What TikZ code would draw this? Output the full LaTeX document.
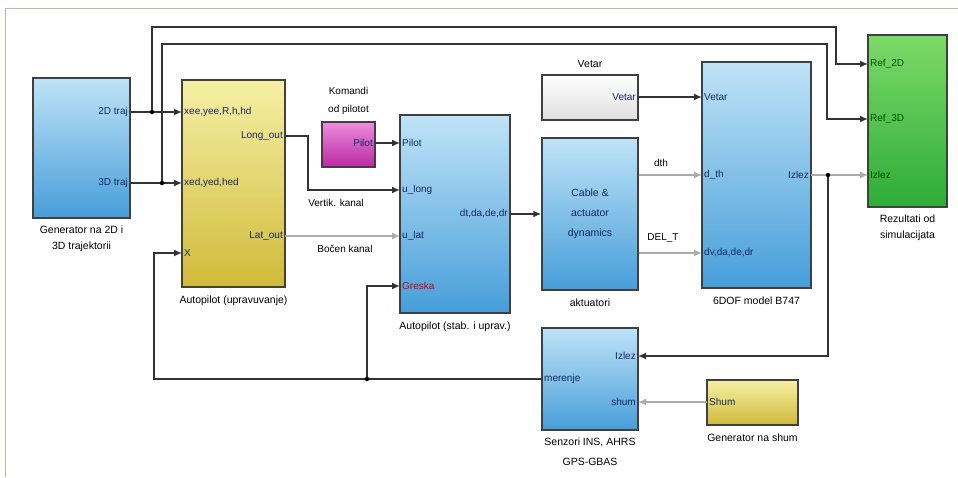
\documentclass[tikz,border=0pt]{standalone}
\usepackage{fontspec}
\setmainfont{Liberation Sans}
\usetikzlibrary{arrows.meta}
\definecolor{blkhi}{RGB}{192,227,247}
\definecolor{blklo}{RGB}{70,158,218}
\definecolor{ylwhi}{RGB}{246,240,165}
\definecolor{ylwlo}{RGB}{208,186,58}
\definecolor{grnhi}{RGB}{125,218,105}
\definecolor{grnlo}{RGB}{45,172,55}
\definecolor{maghi}{RGB}{236,140,222}
\definecolor{maglo}{RGB}{186,42,162}
\definecolor{framec}{RGB}{205,175,155}
\definecolor{porttxt}{RGB}{20,40,95}

\begin{document}
\begin{tikzpicture}[x=1pt,y=-1pt,>={Latex[length=8pt,width=7pt]},
  font=\fontsize{10}{11}\selectfont,
  blk/.style={draw=black!75,line width=1.4pt,inner sep=0pt},
  blueblk/.style={blk,top color=blkhi,bottom color=blklo},
  ylwblk/.style={blk,top color=ylwhi,bottom color=ylwlo},
  pin l/.style={anchor=west,inner sep=2pt,text=porttxt},
  pin r/.style={anchor=east,inner sep=2pt,text=porttxt},
  sig/.style={draw=black!80,line width=1.5pt},
  sigl/.style={draw=gray!65,line width=1.8pt},
  jdot/.style={circle,fill=black,inner sep=0pt,minimum size=4.5pt},
  blkcap/.style={align=center,font=\fontsize{10.5}{16}\selectfont}]
\useasboundingbox (0,0) rectangle (958,477);
\draw[framec,line width=1pt] (5,477) -- (5,8) -- (958,8);

\node[blueblk,minimum width=97pt,minimum height=140pt] (gen) at (81.5,148) {};
\node[blkcap,below=4pt] (gen-cap) at (gen.south) {Generator na 2D i\\3D trajektorii};
\node[pin r] (gen-2d) at (130,112) {2D traj};
\node[pin r] (gen-3d) at (130,183) {3D traj};

\node[ylwblk,minimum width=103pt,minimum height=207pt] (ap1) at (233.5,183.5) {};
\node[blkcap,below=5pt] (ap1-cap) at (ap1.south) {Autopilot (upravuvanje)};
\node[pin l] (ap1-i1) at (182,112) {xee,yee,R,h,hd};
\node[pin l] (ap1-i2) at (182,183) {xed,yed,hed};
\node[pin l] (ap1-i3) at (182,253) {X};
\node[pin r] (ap1-lo) at (285,136) {Long\_out};
\node[pin r] (ap1-la) at (285,236) {Lat\_out};

\node[blk,top color=maghi,bottom color=maglo,minimum width=53pt,minimum height=45pt] (pil) at (348.5,144.5) {};
\node[blkcap,above=3pt,font=\fontsize{10}{18}\selectfont] (pil-cap) at (pil.north) {Komandi\\od pilotot};
\node[pin r] (pil-o) at (375,143) {Pilot};

\node[blueblk,minimum width=110pt,minimum height=198pt] (ap2) at (455,214) {};
\node[blkcap,below=5pt] (ap2-cap) at (ap2.south) {Autopilot (stab. i uprav.)};
\node[pin l] (ap2-i1) at (400,143) {Pilot};
\node[pin l] (ap2-i2) at (400,190) {u\_long};
\node[pin l] (ap2-i3) at (400,236) {u\_lat};
\node[pin l,text=red!80!black] (ap2-i4) at (400,286) {Greska};
\node[pin r] (ap2-o) at (510,214) {dt,da,de,dr};

\node[blk,top color=white,bottom color=gray!25,minimum width=96pt,minimum height=45pt] (vet) at (590,97.5) {};
\node[blkcap,above=3pt] (vet-cap) at (vet.north) {Vetar};
\node[pin r] (vet-o) at (638,97) {Vetar};

\node[blueblk,minimum width=96pt,minimum height=152pt,align=center,text=porttxt,
  font=\fontsize{10.5}{20}\selectfont] (akt) at (590,214) {Cable \&\\actuator\\dynamics};
\node[blkcap,below=5pt] (akt-cap) at (akt.south) {aktuatori};

\node[blueblk,minimum width=109pt,minimum height=226pt] (b747) at (756.5,175) {};
\node[blkcap,below=5pt] (b747-cap) at (b747.south) {6DOF model B747};
\node[pin l] (b-i1) at (702,97) {Vetar};
\node[pin l] (b-i2) at (702,175) {d\_th};
\node[pin l] (b-i3) at (702,253) {dv,da,de,dr};
\node[pin r] (b-o) at (811,175) {Izlez};

\node[blk,top color=grnhi,bottom color=grnlo,minimum width=79pt,minimum height=172pt] (rez) at (907.5,121) {};
\node[blkcap,below=4pt] (rez-cap) at (rez.south) {Rezultati od\\simulacijata};
\node[pin l,text=green!30!black] (rez-i1) at (868,64) {Ref\_2D};
\node[pin l,text=green!30!black] (rez-i2) at (868,119) {Ref\_3D};
\node[pin l,text=green!30!black] (rez-i3) at (868,175) {Izlez};

\node[blueblk,minimum width=96pt,minimum height=102pt] (sen) at (590,379) {};
\node[blkcap,below=4pt,font=\fontsize{10.5}{20}\selectfont] (sen-cap) at (sen.south) {Senzori INS, AHRS\\GPS-GBAS};
\node[pin r] (sen-iz) at (638,356) {Izlez};
\node[pin r] (sen-sh) at (638,402) {shum};
\node[pin l] (sen-mj) at (542,379) {merenje};

\node[ylwblk,minimum width=91pt,minimum height=45pt] (shm) at (752.5,402.5) {};
\node[blkcap,below=5pt] (shm-cap) at (shm.south) {Generator na shum};
\node[pin l] (shm-o) at (707,402) {Shum};

\node (vk) at (336,203) {Vertik. kanal};
\node (bk) at (345,249) {Bočen kanal};
\node (dth) at (661,163) {dth};
\node (delt) at (663,238) {DEL\_T};

\coordinate (j2d) at (152,112);
\coordinate (j3d) at (162,183);
\coordinate (jiz) at (828,175);
\coordinate (jfb) at (367,379);
\coordinate (fb) at (154,253);

\draw[sig,->] (gen-2d.east) -- (ap1-i1.west);
\draw[sig,->] (gen-3d.east) -- (ap1-i2.west);
\draw[sig,->] (j2d) |- (836,27) |- (rez-i1.west);
\draw[sig,->] (j3d) |- (827,44) |- (rez-i2.west);
\draw[sig,->] (ap1-lo.east) -- (308,136) |- (ap2-i2.west);
\draw[sigl,->] (ap1-la.east) -- (ap2-i3.west);
\draw[sig,->] (pil-o.east) -- (ap2-i1.west);
\draw[sig,->] (ap2-o.east) -- (akt.west);
\draw[sig,->] (vet-o.east) -- (b-i1.west);
\draw[sigl,->] (akt.east |- b-i2) -- (b-i2.west);
\draw[sigl,->] (akt.east |- b-i3) -- (b-i3.west);
\draw[sigl,->] (b-o.east) -- (rez-i3.west);
\draw[sig,->] (jiz) |- (sen-iz.east);
\draw[sigl,->] (shm-o.west) -- (sen-sh.east);
\draw[sig,->] (sen-mj.west) -| (fb) -- (ap1-i3.west);
\draw[sig,->] (jfb) |- (ap2-i4.west);

\node[jdot] (d2d) at (j2d) {};
\node[jdot] (d3d) at (j3d) {};
\node[jdot] (diz) at (jiz) {};
\node[jdot] (dfb) at (jfb) {};
\end{tikzpicture}
\end{document}
